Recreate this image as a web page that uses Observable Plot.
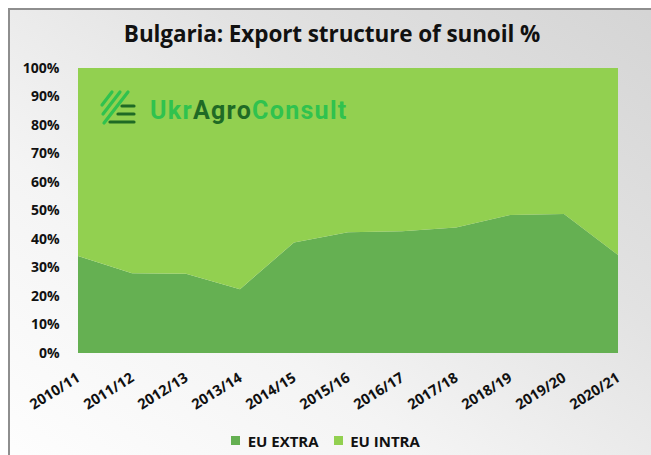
<!DOCTYPE html>
<html>
<head>
<meta charset="utf-8">
<script src="https://cdn.jsdelivr.net/npm/d3@7"></script>
<script src="https://cdn.jsdelivr.net/npm/@observablehq/plot@0.6"></script>
<style>
  html, body { margin: 0; padding: 0; background: #ffffff; }
  #wrap { position: relative; width: 651px; height: 455px; overflow: hidden; font-family: "Open Sans", sans-serif; }
  #frame { position: absolute; left: 8px; top: 8px; width: 700px; height: 500px;
    border-top: 2px solid #8e8e8e; border-left: 2px solid #8e8e8e;
    background: linear-gradient(to top right, #ffffff 0%, #f4f4f4 35%, #e2e2e2 65%, #d3d3d3 100%); }
  #title { position: absolute; left: 0; width: 664px; top: 18px; text-align: center;
    font-size: 22.5px; font-weight: 700; color: #111; letter-spacing: -0.1px; }
  #chart { position: absolute; left: 0; top: 50px; }
  #logo { position: absolute; left: 96px; top: 86px; }
  #logotext { position: absolute; left: 150px; top: 96px; font-family: Roboto, sans-serif; font-weight: 700; font-size: 25px; letter-spacing: 1.3px; }
  #legend { position: absolute; left: 0; width: 666px; top: 424px; text-align: center; }
  #legend > div { display: inline-flex !important; justify-content: center; }
</style>
</head>
<body>
<div id="wrap">
  <div id="frame"></div>
  <div id="title">Bulgaria: Export structure of sunoil %</div>
  <div id="chart"></div>
  <svg id="logo" width="42" height="42" viewBox="0 0 42 42">
    <g stroke-linecap="round">
      <line x1="26" y1="20" x2="38" y2="20" stroke="#1f6a25" stroke-width="3.2"/>
      <line x1="22" y1="28" x2="38" y2="28" stroke="#1f6a25" stroke-width="3.2"/>
      <line x1="14" y1="36" x2="38" y2="36" stroke="#1f6a25" stroke-width="3.2"/>
      <line x1="6" y1="19" x2="16" y2="6" stroke="#30c24e" stroke-width="3.2"/>
      <line x1="7" y1="28" x2="24" y2="6" stroke="#30c24e" stroke-width="3.2"/>
      <line x1="8" y1="37" x2="32" y2="6" stroke="#30c24e" stroke-width="3.2"/>
    </g>
  </svg>
  <div id="logotext"><span style="color:#30c24e">Ukr</span><span style="color:#1f6a25">Agro</span><span style="color:#30c24e">Consult</span></div>
  <div id="legend"></div>
</div>
<script>
const years = ["2010/11","2011/12","2012/13","2013/14","2014/15","2015/16","2016/17","2017/18","2018/19","2019/20","2020/21"];
const euExtra = [34, 28, 27.8, 22.4, 38.8, 42.4, 42.7, 44, 48.4, 48.8, 34.4];
const euIntra = [66, 72, 72.2, 77.6, 61.2, 57.6, 57.3, 56, 51.6, 51.2, 65.6];
const seriesNames = ["EU EXTRA", "EU INTRA"];
const seriesColors = ["#65b052", "#92d050"];
const yTicks = [0, 10, 20, 30, 40, 50, 60, 70, 80, 90, 100];

const rows = [];
years.forEach((yr, i) => {
  rows.push({year: yr, series: seriesNames[0], value: euExtra[i]});
  rows.push({year: yr, series: seriesNames[1], value: euIntra[i]});
});

const chart = Plot.plot({
  width: 651,
  height: 380,
  marginTop: 18,
  marginBottom: 77,
  marginLeft: 75,
  marginRight: 30,
  style: {background: "transparent", fontFamily: "Open Sans, sans-serif", fontSize: "14px", fontWeight: 700, color: "#111"},
  x: {type: "point", domain: years, padding: 0, label: null},
  y: {domain: [0, 100], label: null},
  color: {domain: seriesNames, range: seriesColors},
  marks: [
    Plot.areaY(rows, {x: "year", y: "value", z: "series", fill: "series", order: seriesNames, curve: "linear"}),
    Plot.axisY({ticks: yTicks, tickFormat: d => d + "%", tickSize: 0, tickPadding: 16, fill: "#111", fontWeight: 700, fontSize: 14, label: null}),
    Plot.axisX({tickSize: 0, tickPadding: 23, tickRotate: -32, fill: "#111", fontWeight: 700, fontSize: 14.5, label: null})
  ]
});
document.getElementById("chart").appendChild(chart);

const leg = Plot.legend({
  color: {domain: seriesNames, range: seriesColors},
  swatchSize: 9, swatchWidth: 9, swatchHeight: 9,
  style: {fontFamily: "Open Sans, sans-serif", fontSize: "15px", fontWeight: 700, color: "#111"}
});
document.getElementById("legend").appendChild(leg);
</script>
</body>
</html>
